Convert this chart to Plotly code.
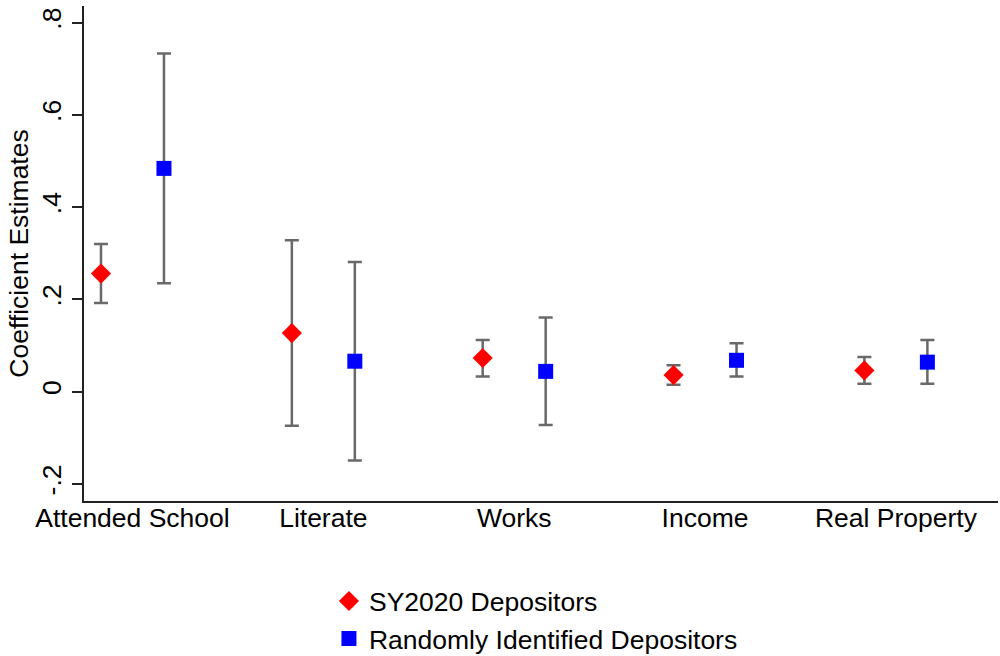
import plotly.graph_objects as go

categories = ["Attended School", "Literate", "Works", "Income", "Real Property"]

sy_est = [0.256, 0.127, 0.073, 0.036, 0.046]
sy_lo = [0.192, -0.074, 0.033, 0.015, 0.017]
sy_hi = [0.320, 0.328, 0.112, 0.057, 0.075]

rand_est = [0.484, 0.066, 0.044, 0.068, 0.064]
rand_lo = [0.235, -0.149, -0.072, 0.033, 0.017]
rand_hi = [0.733, 0.281, 0.161, 0.105, 0.112]

y_tick_vals = [-0.2, 0, 0.2, 0.4, 0.6, 0.8]
y_tick_text = ["-.2", "0", ".2", ".4", ".6", ".8"]

offset = 0.165
pos = list(range(1, len(categories) + 1))

font_family = "Liberation Sans, Arial, sans-serif"
fs = 26.5
err_color = "rgb(105,105,105)"

fig = go.Figure()

fig.add_trace(go.Scatter(
    x=[p - offset for p in pos],
    y=sy_est,
    mode="markers",
    name="SY2020 Depositors",
    marker=dict(symbol="diamond", size=15.5, color="#ff0000", line=dict(width=0)),
    error_y=dict(
        type="data", symmetric=False,
        array=[h - e for h, e in zip(sy_hi, sy_est)],
        arrayminus=[e - l for e, l in zip(sy_est, sy_lo)],
        color=err_color, thickness=2.5, width=7,
    ),
))

fig.add_trace(go.Scatter(
    x=[p + offset for p in pos],
    y=rand_est,
    mode="markers",
    name="Randomly Identified Depositors",
    marker=dict(symbol="square", size=15, color="#0000ff", line=dict(width=0)),
    error_y=dict(
        type="data", symmetric=False,
        array=[h - e for h, e in zip(rand_hi, rand_est)],
        arrayminus=[e - l for e, l in zip(rand_est, rand_lo)],
        color=err_color, thickness=2.5, width=7,
    ),
))

fig.update_layout(
    width=1000, height=656,
    margin=dict(l=84, r=2, t=6, b=155, autoexpand=False),
    paper_bgcolor="white", plot_bgcolor="white",
    font=dict(family=font_family, size=fs, color="black"),
    showlegend=True,
    legend=dict(
        x=0.268, y=0.12, xanchor="left", yanchor="top",
        xref="paper", yref="container",
        orientation="v", bgcolor="rgba(0,0,0,0)",
        font=dict(size=fs), itemsizing="trace",
        tracegroupgap=0,
    ),
    xaxis=dict(
        range=[0.746, 5.535], automargin=False,
        tickmode="array", tickvals=pos, ticktext=categories,
        showgrid=False, zeroline=False,
        showline=True, linecolor="#222", linewidth=2,
        ticks="", tickfont=dict(size=fs), ticklabelstandoff=-8,
    ),
    yaxis=dict(
        range=[-0.237, 0.836], automargin=False,
        tickmode="array", tickvals=y_tick_vals, ticktext=y_tick_text,
        tickangle=-90,
        showgrid=False, zeroline=False,
        showline=True, linecolor="#222", linewidth=2,
        ticks="outside", ticklen=10, tickwidth=2, tickcolor="#222",
        tickfont=dict(size=fs),
        title=dict(text="Coefficient Estimates", font=dict(size=fs), standoff=1),
    ),
)

fig.write_html("out.html")
